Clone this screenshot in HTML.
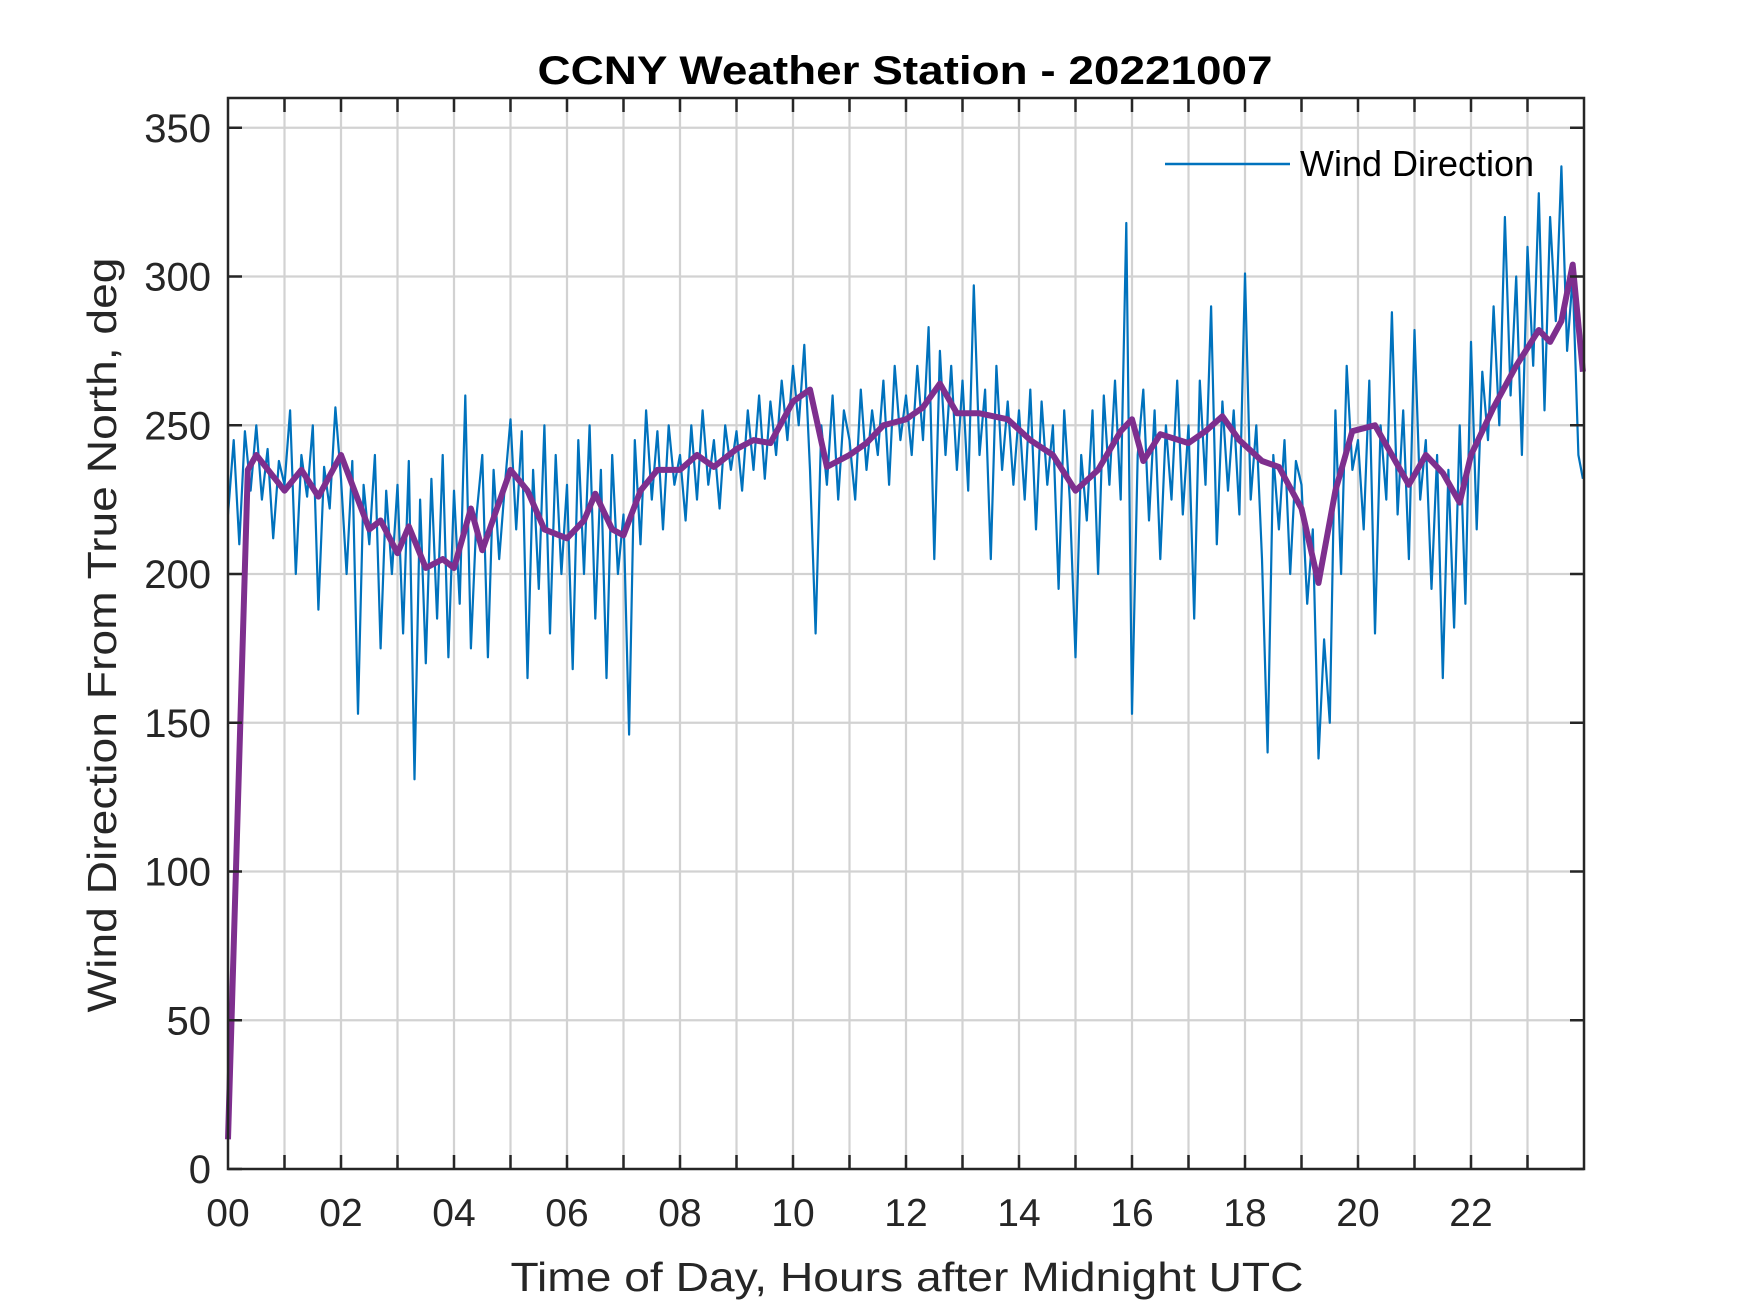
<!DOCTYPE html>
<html>
<head>
<meta charset="utf-8">
<style>
  html, body { margin: 0; padding: 0; background: #fff; }
  svg { display: block; font-family: "Liberation Sans", Arial, sans-serif; }
</style>
</head>
<body>
<svg id="chart" width="1750" height="1313" viewBox="0 0 1750 1313" xmlns="http://www.w3.org/2000/svg">
  <rect x="0" y="0" width="1750" height="1313" fill="#fff"/>
  <g id="grid"></g>
  <g id="series"></g>
  <g id="axes"></g>
  <text x="905" y="84" text-anchor="middle" font-size="40" font-weight="bold" fill="#000" textLength="735" lengthAdjust="spacingAndGlyphs">CCNY Weather Station - 20221007</text>
  <text x="907" y="1291" text-anchor="middle" font-size="41" fill="#262626" textLength="793" lengthAdjust="spacingAndGlyphs">Time of Day, Hours after Midnight UTC</text>
  <text x="0" y="0" transform="translate(116,635) rotate(-90)" text-anchor="middle" font-size="41" fill="#262626" textLength="755" lengthAdjust="spacingAndGlyphs">Wind Direction From True North, deg</text>
  <g>
    <line x1="1165" y1="164" x2="1290" y2="164" stroke="#0072BD" stroke-width="2.5"/>
    <text x="1300" y="176" font-size="36" fill="#000">Wind Direction</text>
  </g>
</svg>
<script>
// ---- data ----
const xTicks = [0,2,4,6,8,10,12,14,16,18,20,22];
const xTickLabels = ["00","02","04","06","08","10","12","14","16","18","20","22"];
const yTicks = [0,50,100,150,200,250,300,350];
const yTickLabels = ["0","50","100","150","200","250","300","350"];
const rawStep = 0.1; // hours between raw samples
const rawValues = [
220,245,210,248,228,250,225,242,212,238,
230,255,200,240,226,250,188,236,222,256,
232,200,238,153,230,210,240,175,228,200,
230,180,238,131,225,170,232,185,240,172,
228,190,260,175,220,240,172,235,205,230,
252,215,248,165,235,195,250,180,240,200,
230,168,245,200,250,185,235,165,240,200,
220,146,245,210,255,225,248,215,250,230,
240,218,250,225,255,230,245,222,250,235,
248,228,255,235,260,232,258,240,265,245,
270,250,277,235,180,250,230,260,225,255,
245,225,262,235,255,240,265,230,270,245,
260,240,270,245,283,205,275,240,270,235,
265,228,297,240,262,205,270,235,258,230,
255,225,262,215,258,230,250,195,255,225,
172,240,218,255,200,260,230,265,225,318,
153,240,262,218,255,205,250,225,265,220,
250,185,265,230,290,210,258,228,255,220,
301,225,250,205,140,240,215,245,200,238,
230,190,215,138,178,150,255,200,270,235,
245,215,265,180,250,225,288,220,255,205,
282,225,245,195,240,165,235,182,250,190,
278,215,268,245,290,250,320,260,300,240,
310,270,328,255,320,285,337,275,300,240,
232
];
const smoothTimes = [0,0.35,0.5,1.0,1.3,1.6,2.0,2.3,2.5,2.7,3.0,3.2,3.5,3.8,4.0,4.3,4.5,5.0,5.3,5.6,6.0,6.3,6.5,6.8,7.0,7.3,7.6,8.0,8.3,8.6,9.0,9.3,9.6,10.0,10.3,10.6,11.0,11.3,11.6,12.0,12.3,12.6,12.9,13.3,13.8,14.2,14.6,15.0,15.4,15.8,16.0,16.2,16.5,17.0,17.3,17.6,17.9,18.3,18.6,19.0,19.3,19.6,19.9,20.3,20.6,20.9,21.2,21.5,21.8,22.0,22.4,22.8,23.2,23.4,23.6,23.8,23.98];
const smoothValues = [10,235,240,228,235,226,240,225,215,218,207,216,202,205,202,222,208,235,228,215,212,218,227,215,213,228,235,235,240,236,242,245,244,258,262,236,240,244,250,252,256,264,254,254,252,245,240,228,235,248,252,238,247,244,248,253,245,238,236,222,197,228,248,250,240,230,240,234,224,240,256,270,282,278,285,304,268];

// ---- axes ----
const L = 228, R = 1584, T = 98, B = 1169;
const xMin = 0, xMax = 24, yMin = 0, yMax = 360;
function xs(v) { return L + (v - xMin) / (xMax - xMin) * (R - L); }
function ys(v) { return B - (v - yMin) / (yMax - yMin) * (B - T); }

const NS = "http://www.w3.org/2000/svg";
function mk(tag, attrs, parent) {
  const el = document.createElementNS(NS, tag);
  for (const k in attrs) el.setAttribute(k, attrs[k]);
  parent.appendChild(el);
  return el;
}
const grid = document.getElementById('grid');
const series = document.getElementById('series');
const axes = document.getElementById('axes');

for (let h = 1; h < 24; h++) {
  const g = mk('line', {x1: xs(h), y1: T, x2: xs(h), y2: B, stroke: '#d2d2d2', 'stroke-width': 2.2}, grid);
  
  
}
yTicks.forEach(v => {
  if (v === 0) return;
  const g = mk('line', {x1: L, y1: ys(v), x2: R, y2: ys(v), stroke: '#d2d2d2', 'stroke-width': 2.2}, grid);
  
  
});

let d = '';
rawValues.forEach((v, i) => {
  const t = Math.min(i * rawStep, 23.98);
  d += (i ? 'L' : 'M') + xs(t).toFixed(1) + ' ' + ys(v).toFixed(1);
});
const raw = mk('path', {d: d, fill: 'none', stroke: '#0072BD', 'stroke-width': 2.2, 'stroke-linejoin': 'round'}, series);



let d2 = '';
smoothTimes.forEach((t, i) => {
  d2 += (i ? 'L' : 'M') + xs(t).toFixed(1) + ' ' + ys(smoothValues[i]).toFixed(1);
});
const sm = mk('path', {d: d2, fill: 'none', stroke: '#7E2F8E', 'stroke-width': 6, 'stroke-linejoin': 'round'}, series);



const box = mk('rect', {x: L, y: T, width: R - L, height: B - T, fill: 'none', stroke: '#262626', 'stroke-width': 2.5}, axes);



for (let h = 1; h < 24; h++) {
  const t1 = mk('line', {x1: xs(h), y1: B, x2: xs(h), y2: B - 14, stroke: '#262626', 'stroke-width': 2.5}, axes);
  
  
  const t2 = mk('line', {x1: xs(h), y1: T, x2: xs(h), y2: T + 14, stroke: '#262626', 'stroke-width': 2.5}, axes);
  
  
}
xTicks.forEach((v, i) => {
  const tx = mk('text', {x: xs(v), y: 1226, 'text-anchor': 'middle', 'font-size': 39, fill: '#262626'}, axes);
  tx.textContent = xTickLabels[i];
  
  
});
yTicks.forEach((v, i) => {
  const t1 = mk('line', {x1: L, y1: ys(v), x2: L + 14, y2: ys(v), stroke: '#262626', 'stroke-width': 2.5}, axes);
  
  
  const t2 = mk('line', {x1: R, y1: ys(v), x2: R - 14, y2: ys(v), stroke: '#262626', 'stroke-width': 2.5}, axes);
  
  
  const tx = mk('text', {x: 211, y: ys(v) + 14, 'text-anchor': 'end', 'font-size': 40, fill: '#262626'}, axes);
  tx.textContent = yTickLabels[i];
  
  
});
</script>
</body>
</html>
